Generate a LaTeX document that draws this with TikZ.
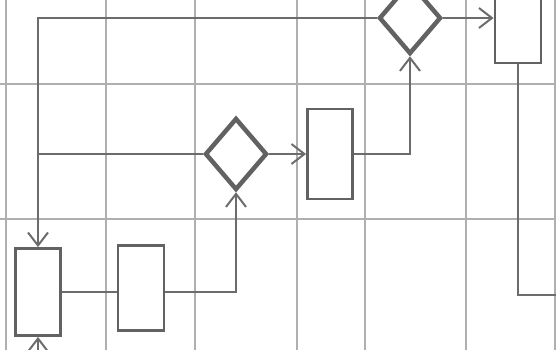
\documentclass[tikz,border=0pt]{standalone}
\usetikzlibrary{shapes.geometric,arrows.meta}
\definecolor{gridgray}{RGB}{175,175,175}
\definecolor{flowgray}{RGB}{108,108,108}
\definecolor{boxgray}{RGB}{98,98,98}
\tikzset{
  gridline/.style={draw=gridgray, line width=1.4pt},
  stepbox/.style={rectangle, draw=boxgray, fill=white, line width=2.8pt,
                  inner sep=0pt},
  choice/.style={diamond, draw=boxgray, fill=white, line width=4.5pt,
                 inner sep=0pt, minimum width=62pt, minimum height=72pt},
  flow/.style={draw=flowgray, line width=2pt},
  flowarrow/.style={flow, -{Straight Barb[length=13pt,width=20pt,line width=2pt]}}
}

\begin{document}
\begin{tikzpicture}[x=1pt,y=-1pt]
  \useasboundingbox (0,0) rectangle (556,349);
  \clip (0,0) rectangle (556,349);

  % grid
  \foreach \gx in {6,106,195,297,365,466,555} {
    \draw[gridline] (\gx,-5) -- (\gx,355);
  }
  \foreach \gy in {84,219} {
    \draw[gridline] (-5,\gy) -- (561,\gy);
  }

  \node[stepbox, minimum width=45pt, minimum height=87pt] (taskA) at (38,292) {};
  \node[stepbox, minimum width=46pt, minimum height=85pt] (taskB) at (141,288) {};
  \node[stepbox, minimum width=45pt, minimum height=90pt] (taskC) at (330,154) {};
  \node[stepbox, minimum width=46pt, minimum height=90pt] (taskD) at (518,18) {};

  \node[choice] (testA) at (236,154) {};
  \node[choice] (testB) at (410,18) {};

  \coordinate (entry) at (38,365);
  \coordinate (exit) at (565,295);

  \draw[flowarrow] (entry) -- (taskA.south);
  \draw[flow] (taskA.east) -- (taskA.east -| taskB.west);
  \draw[flowarrow] (taskA.east -| taskB.east) -| (testA.south);
  \draw[flowarrow] (testA.east) -- (taskC.west);
  \draw[flowarrow] (taskC.east) -| (testB.south);
  \draw[flowarrow] (testB.east) -- (taskD.west);
  \draw[flow] (taskD.south) |- (exit);

  % loop back
  \draw[flowarrow] (testB.west) -- (testB.west -| taskA.north) -- (taskA.north);
  \draw[flow] (testA.west) -- (testA.west -| taskA.north);
\end{tikzpicture}
\end{document}
